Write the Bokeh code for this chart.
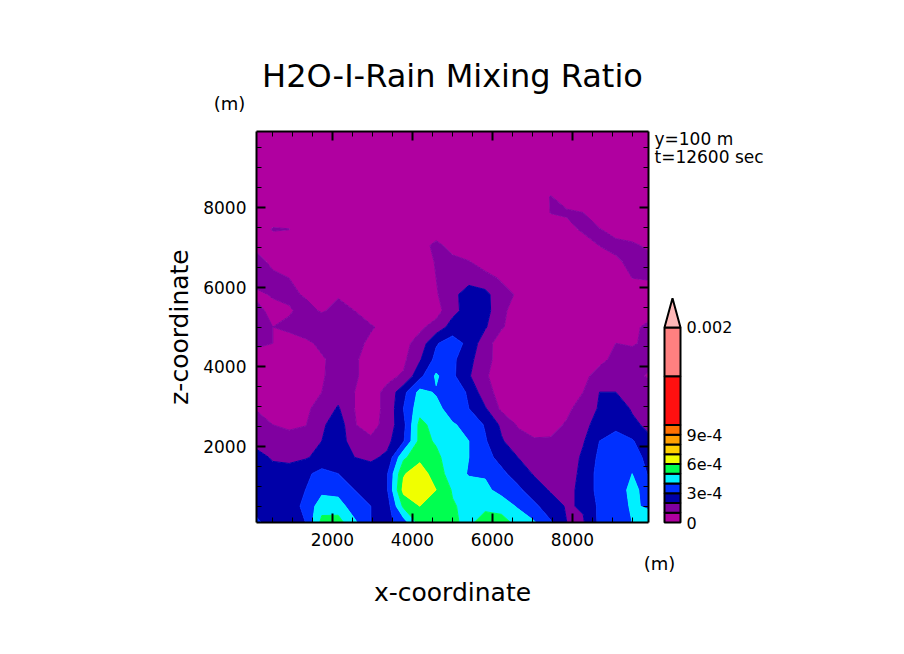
import numpy as np
from bokeh.core.properties import value
from bokeh.embed import file_html
from bokeh.layouts import row
from bokeh.models import FixedTicker, LinearAxis
from bokeh.plotting import figure
from bokeh.resources import INLINE

# grid of the cross section, metres
x_coord = np.linspace(100, 9900, 25)
z_coord = np.linspace(100, 9900, 25)

# rain mixing ratio in units of 1e-4, one list per height, bottom to top
z_00 = [3.2, 2.5, 2.6, 3.0, 5.3, 5.4, 4.2, 3.0, 2.7, 3.5, 5.4, 5.6, 5.2, 4.7, 5.6, 5.5, 4.6, 4.1, 3.1, 2.0, 1.9, 3.2, 3.6, 4.0, 4.4]
z_01 = [2.6, 2.5, 2.6, 3.2, 4.6, 4.5, 3.4, 3.0, 2.5, 5.2, 6.0, 5.9, 5.1, 4.7, 4.7, 4.5, 3.9, 3.2, 2.5, 1.9, 2.1, 3.2, 3.6, 4.1, 3.9]
z_02 = [2.4, 2.4, 2.6, 3.0, 3.7, 3.6, 3.0, 2.6, 2.9, 6.3, 6.8, 6.0, 4.9, 4.5, 4.2, 3.7, 3.2, 2.5, 1.9, 1.6, 2.4, 3.3, 3.6, 4.2, 3.7]
z_03 = [2.5, 2.3, 2.5, 2.8, 3.3, 3.0, 2.7, 2.5, 2.9, 5.9, 6.6, 5.4, 4.6, 3.9, 3.9, 3.2, 2.6, 1.9, 1.6, 1.3, 2.4, 3.3, 3.5, 4.0, 2.9]
z_04 = [2.3, 1.9, 1.7, 1.9, 2.3, 2.5, 2.0, 1.8, 2.2, 4.8, 5.7, 5.2, 4.5, 4.0, 3.3, 2.7, 2.0, 1.7, 1.5, 1.3, 2.2, 3.2, 3.4, 3.3, 2.8]
z_05 = [1.7, 1.5, 1.4, 1.6, 2.0, 2.6, 1.4, 1.2, 1.7, 2.9, 5.3, 4.9, 4.5, 4.0, 3.1, 2.1, 1.4, 1.1, 1.1, 1.3, 1.9, 3.0, 3.3, 3.1, 2.2]
z_06 = [1.3, 1.0, 0.8, 0.95, 1.8, 2.6, 1.05, 0.6, 1.4, 2.7, 5.3, 4.6, 4.1, 3.7, 2.9, 1.8, 0.9, 0.6, 0.7, 1.1, 1.7, 2.4, 2.8, 2.2, 1.8]
z_07 = [0.95, 0.6, 0.6, 0.8, 1.4, 2.1, 1.0, 0.7, 1.2, 3.0, 4.6, 4.3, 3.5, 3.0, 2.1, 0.8, 0.5, 0.4, 0.4, 0.8, 1.4, 2.1, 2.5, 1.9, 1.5]
z_08 = [0.8, 0.5, 0.4, 0.6, 1.0, 1.6, 1.0, 0.7, 1.2, 2.7, 4.3, 3.9, 3.4, 2.9, 1.3, 0.7, 0.4, 0.3, 0.3, 0.5, 1.0, 2.0, 2.0, 1.6, 1.5]
z_09 = [0.6, 0.4, 0.3, 0.5, 0.9, 1.4, 1.1, 0.7, 0.8, 1.1, 2.7, 4.15, 3.2, 2.1, 1.1, 0.6, 0.3, 0.3, 0.3, 0.4, 0.8, 1.3, 1.5, 1.3, 0.9]
z_10 = [0.5, 0.4, 0.4, 0.5, 0.9, 1.3, 1.1, 0.7, 0.5, 0.8, 1.9, 3.3, 3.2, 2.3, 1.3, 0.6, 0.3, 0.3, 0.3, 0.3, 0.5, 0.8, 1.2, 1.4, 1.3]
z_11 = [1.2, 1.0, 0.6, 0.8, 1.2, 1.5, 1.3, 0.8, 0.5, 0.7, 1.4, 2.9, 3.5, 2.7, 1.4, 0.5, 0.3, 0.3, 0.3, 0.3, 0.4, 0.6, 1.0, 0.9, 1.2]
z_12 = [1.3, 1.0, 1.2, 1.5, 1.7, 1.8, 1.4, 1.1, 0.7, 0.5, 0.8, 1.4, 2.4, 2.6, 2.1, 1.1, 0.5, 0.3, 0.3, 0.3, 0.3, 0.4, 0.5, 0.8, 1.2]
z_13 = [1.3, 0.7, 0.9, 1.3, 0.9, 1.3, 1.0, 0.5, 0.3, 0.3, 0.3, 0.6, 1.7, 2.4, 2.4, 1.2, 0.6, 0.3, 0.3, 0.3, 0.3, 0.3, 0.3, 0.5, 0.6]
z_14 = [0.8, 1.1, 1.2, 0.9, 0.5, 0.9, 0.3, 0.3, 0.3, 0.3, 0.3, 0.9, 1.7, 2.5, 2.3, 1.3, 0.9, 0.4, 0.3, 0.3, 0.3, 0.3, 0.3, 0.3, 0.3]
z_15 = [1.4, 1.2, 1.0, 0.8, 0.3, 0.3, 0.3, 0.3, 0.3, 0.3, 0.3, 1.0, 1.3, 1.6, 1.3, 0.9, 0.4, 0.3, 0.3, 0.3, 0.3, 0.3, 0.3, 1.0, 1.1]
z_16 = [1.3, 0.8, 0.5, 0.3, 0.3, 0.3, 0.3, 0.3, 0.3, 0.3, 0.3, 1.1, 1.3, 1.05, 0.6, 0.3, 0.3, 0.3, 0.3, 0.3, 0.3, 0.4, 0.8, 1.3, 1.4]
z_17 = [0.8, 0.4, 0.3, 0.3, 0.3, 0.3, 0.3, 0.3, 0.3, 0.3, 0.5, 1.3, 0.6, 0.3, 0.3, 0.3, 0.3, 0.3, 0.3, 0.3, 0.4, 1.02, 1.3, 1.2, 0.8]
z_18 = [0.3, 1.08, 1.02, 0.3, 0.3, 0.3, 0.3, 0.3, 0.3, 0.3, 0.3, 0.3, 0.3, 0.3, 0.3, 0.3, 0.3, 0.3, 0.3, 0.6, 1.2, 1.05, 0.6, 0.3, 0.3]
z_19 = [0.2, 0.3, 0.3, 0.3, 0.2, 0.2, 0.2, 0.2, 0.2, 0.2, 0.2, 0.2, 0.2, 0.2, 0.2, 0.2, 0.2, 0.2, 1.02, 1.15, 1.02, 0.3, 0.3, 0.3, 0.3]
z_20 = [0.2, 0.2, 0.2, 0.2, 0.2, 0.2, 0.2, 0.2, 0.2, 0.2, 0.2, 0.2, 0.2, 0.2, 0.2, 0.2, 0.2, 0.2, 1.05, 0.5, 0.2, 0.2, 0.2, 0.2, 0.2]
z_21 = [0.2, 0.2, 0.2, 0.2, 0.2, 0.2, 0.2, 0.2, 0.2, 0.2, 0.2, 0.2, 0.2, 0.2, 0.2, 0.2, 0.2, 0.2, 0.3, 0.2, 0.2, 0.2, 0.2, 0.2, 0.2]
z_22 = [0.1, 0.1, 0.1, 0.1, 0.1, 0.1, 0.1, 0.1, 0.1, 0.1, 0.1, 0.1, 0.1, 0.1, 0.1, 0.1, 0.1, 0.1, 0.1, 0.1, 0.1, 0.1, 0.1, 0.1, 0.1]
z_23 = [0.1, 0.1, 0.1, 0.1, 0.1, 0.1, 0.1, 0.1, 0.1, 0.1, 0.1, 0.1, 0.1, 0.1, 0.1, 0.1, 0.1, 0.1, 0.1, 0.1, 0.1, 0.1, 0.1, 0.1, 0.1]
z_24 = [0.1, 0.1, 0.1, 0.1, 0.1, 0.1, 0.1, 0.1, 0.1, 0.1, 0.1, 0.1, 0.1, 0.1, 0.1, 0.1, 0.1, 0.1, 0.1, 0.1, 0.1, 0.1, 0.1, 0.1, 0.1]

mixing_ratio = np.array([
    z_00, z_01, z_02, z_03, z_04, z_05, z_06, z_07, z_08, z_09, z_10, z_11, z_12,
    z_13, z_14, z_15, z_16, z_17, z_18, z_19, z_20, z_21, z_22, z_23, z_24,
])

# contour levels (1e-4) and their colours
levels = [0, 1, 2, 3, 4, 5, 6, 7, 8, 9, 10, 15, 20]
colors = ["#b000a0", "#8000a0", "#0000a8", "#0030ff", "#00f0ff", "#00ff50",
          "#f0ff00", "#ffd000", "#ffa000", "#ff7000", "#ff1010", "#ff8080"]
over_color = "#ffb8b8"

major_ticks = [2000, 4000, 6000, 8000]
minor_ticks = [500, 1000, 1500, 2500, 3000, 3500, 4500, 5000, 5500, 6500, 7000, 7500, 8500, 9000, 9500]
bar_ticks = [0, 3, 6, 9, 20]
bar_labels = ["0", "3e-4", "6e-4", "9e-4", "0.002"]

FONT = "DejaVu Sans"


def style_axis(ax, labels=True):
    ax.ticker = FixedTicker(ticks=major_ticks, minor_ticks=minor_ticks)
    ax.axis_line_color = "black"
    ax.axis_line_width = 2
    ax.major_tick_in = 9
    ax.major_tick_out = 0
    ax.major_tick_line_width = 2
    ax.major_tick_line_color = "black"
    ax.minor_tick_in = 5
    ax.minor_tick_out = 0
    ax.minor_tick_line_width = 1
    ax.minor_tick_line_color = "black"
    if labels:
        ax.major_label_text_font = FONT
        ax.major_label_text_font_size = "17px"
        ax.major_label_text_color = "black"
        ax.major_label_standoff = 10
        ax.axis_label_text_font = FONT
        ax.axis_label_text_font_size = "25px"
        ax.axis_label_text_font_style = "normal"
        ax.axis_label_text_color = "black"
    else:
        ax.major_label_overrides = {t: "" for t in major_ticks}
        ax.major_label_standoff = 0


p = figure(
    width=888,
    height=638,
    min_border_left=256,
    min_border_right=240,
    min_border_top=131,
    min_border_bottom=116,
    x_range=(100, 9900),
    y_range=(100, 9900),
    output_backend="svg",
    toolbar_location=None,
    title="H2O-I-Rain Mixing Ratio",
    frame_align=False,
)
p.title.align = "center"
p.title.text_font = FONT
p.title.text_font_size = "32px"
p.title.text_font_style = "normal"
p.title.text_color = "black"
p.title.standoff = 73
p.grid.grid_line_color = None
p.outline_line_color = None

p.contour(x_coord, z_coord, mixing_ratio, levels, fill_color=colors, line_color=colors + [over_color], line_width=1)

p.xaxis.axis_label = "x-coordinate"
p.yaxis.axis_label = "z-coordinate"
style_axis(p.xaxis[0])
style_axis(p.yaxis[0])
p.xaxis[0].axis_label_standoff = 29
p.yaxis[0].axis_label_standoff = 6
top_axis = LinearAxis()
right_axis = LinearAxis()
style_axis(top_axis, labels=False)
style_axis(right_axis, labels=False)
p.add_layout(top_axis, "above")
p.add_layout(right_axis, "right")

# colour bar: its own small figure laid over the right margin of the main one
bar = figure(
    width=80,
    height=244,
    min_border_left=0,
    min_border_right=56,
    min_border_top=0,
    min_border_bottom=12,
    x_range=(-0.25, 1.25),
    y_range=(-0.41, 23.38),
    output_backend="svg",
    toolbar_location=None,
    background_fill_color=None,
    border_fill_color=None,
    outline_line_color=None,
    y_axis_location="right",
    frame_align=False,
    styles={"position": "absolute", "left": "660px", "top": "294px"},
)
bar.grid.grid_line_color = None
bar.xaxis.visible = False
bar.quad(left=0, right=1, bottom=levels[:-1], top=levels[1:], fill_color=colors,
         line_color="black", line_width=2)
bar.patch([0, 0.5, 1], [levels[-1], levels[-1] + 3, levels[-1]], fill_color=over_color,
          line_color="black", line_width=2)
ya = bar.yaxis[0]
ya.ticker = FixedTicker(ticks=bar_ticks)
ya.major_label_overrides = dict(zip(bar_ticks, bar_labels))
ya.axis_line_color = None
ya.major_tick_line_color = None
ya.minor_tick_line_color = None
ya.major_tick_in = 0
ya.major_tick_out = 0
ya.major_label_standoff = 2
ya.major_label_text_font = FONT
ya.major_label_text_font_size = "16px"
ya.major_label_text_color = "black"

# loose notes around the frame, on a transparent figure over the whole page
notes = figure(
    width=888,
    height=638,
    min_border=0,
    x_range=(0, 888),
    y_range=(638, 0),
    x_axis_location=None,
    y_axis_location=None,
    output_backend="svg",
    toolbar_location=None,
    background_fill_color=None,
    border_fill_color=None,
    outline_line_color=None,
    frame_align=False,
    styles={"position": "absolute", "left": "0px", "top": "0px"},
)
notes.grid.grid_line_color = None
notes.text([229, 659], [103, 563], text=["(m)", "(m)"], text_align="center", text_baseline="middle",
           text_font=value(FONT), text_font_size="18px", text_color="black")
notes.text([654, 654], [138, 156], text=["y=100  m", "t=12600 sec"], text_align="left", text_baseline="middle",
           text_font=value(FONT), text_font_size="17px", text_color="black")

layout = row(p, bar, notes)
open("out.html", "w").write(file_html(layout, INLINE))
